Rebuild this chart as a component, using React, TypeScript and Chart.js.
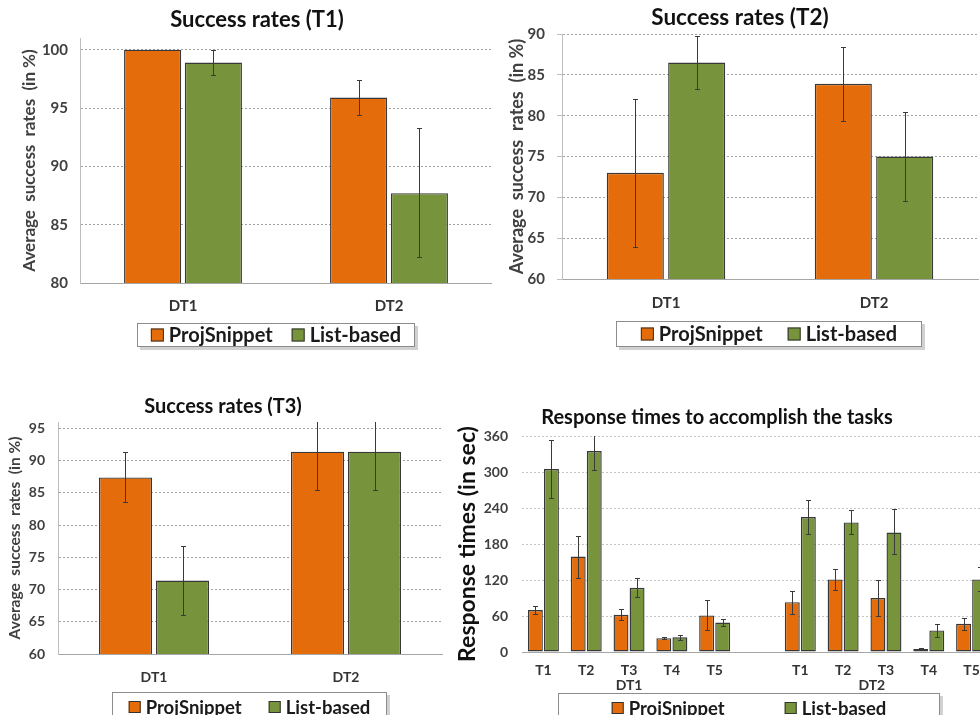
import React, { useEffect, useRef } from "react";
import { Chart, registerables } from "chart.js";

Chart.register(...registerables);

const FONT = "Lato, 'Open Sans', 'DejaVu Sans', sans-serif";
const ORANGE = "#E46C0A";
const GREEN = "#77933C";

// ---------- data ----------
const seriesNames = ["ProjSnippet", "List-based"];
const srCategories = ["DT1", "DT2"];

const t1ProjSnippet = [100, 95.9];
const t1ProjSnippetLow = [100, 94.4];
const t1ProjSnippetHigh = [100, 97.4];
const t1ListBased = [98.9, 87.7];
const t1ListBasedLow = [97.8, 82.2];
const t1ListBasedHigh = [100, 93.3];

const t2ProjSnippet = [73, 83.9];
const t2ProjSnippetLow = [63.9, 79.4];
const t2ProjSnippetHigh = [82, 88.4];
const t2ListBased = [86.5, 75];
const t2ListBasedLow = [83.3, 69.5];
const t2ListBasedHigh = [89.7, 80.5];

const t3ProjSnippet = [87.4, 91.4];
const t3ProjSnippetLow = [83.6, 85.4];
const t3ProjSnippetHigh = [91.3, 97.4];
const t3ListBased = [71.4, 91.4];
const t3ListBasedLow = [66.1, 85.4];
const t3ListBasedHigh = [76.8, 97.4];

const rtCategories = ["T1", "T2", "T3", "T4", "T5", "", "T1", "T2", "T3", "T4", "T5"];
const rtGroupLabels = ["DT1", "DT2"];
const rtGroupCenters = [2, 7.67];
const rtProjSnippet = [70, 159, 62, 23, 61, null, 83, 121, 90, 5, 47];
const rtProjSnippetLow = [63, 124, 53, 21.5, 36, null, 64, 103, 60, 4, 37];
const rtProjSnippetHigh = [77, 193, 72, 25, 87, null, 101, 138, 120, 6.5, 57];
const rtListBased = [305, 335, 107, 24.5, 49, null, 225, 216, 199, 36, 121];
const rtListBasedLow = [256, 303, 91, 20.5, 43, null, 196, 196, 163, 25, 101];
const rtListBasedHigh = [354, 367, 124, 29, 55, null, 254, 236, 238, 47, 142];

// [axis min, axis max, step, last labelled tick]
const t1Ticks = [80, 101, 5, 100];
const t2Ticks = [60, 90, 5, 90];
const t3Ticks = [60, 96, 5, 95];
const rtTicks = [0, 360, 60, 360];

// ---------- plugins ----------
const errorBarPlugin = {
  id: "errbars",
  afterDatasetsDraw(chart: any) {
    const ctx = chart.ctx;
    const a = chart.chartArea;
    const y = chart.scales.y;
    ctx.save();
    ctx.beginPath();
    ctx.rect(a.left, a.top, a.right - a.left, a.bottom - a.top);
    ctx.clip();
    ctx.strokeStyle = "#3a3a3a";
    ctx.lineWidth = 1;
    chart.data.datasets.forEach((ds: any, i: number) => {
      const meta = chart.getDatasetMeta(i);
      meta.data.forEach((bar: any, j: number) => {
        const lo = ds.errLow[j];
        const hi = ds.errHigh[j];
        if (lo == null || hi == null || lo === hi) return;
        const x = Math.round(bar.x) + 0.5;
        const yl = Math.round(y.getPixelForValue(lo)) + 0.5;
        const yh = Math.round(y.getPixelForValue(hi)) + 0.5;
        const cap = 2.5;
        ctx.beginPath();
        ctx.moveTo(x, yl);
        ctx.lineTo(x, yh);
        ctx.moveTo(x - cap, yl);
        ctx.lineTo(x + cap, yl);
        ctx.moveTo(x - cap, yh);
        ctx.lineTo(x + cap, yh);
        ctx.stroke();
      });
    });
    ctx.restore();
  },
};

function makeDecor(p: any) {
  return {
    id: "decor",
    afterDraw(chart: any) {
      const ctx = chart.ctx;
      ctx.save();
      // title
      ctx.font = `bold ${p.titleSize}px ${FONT}`;
      ctx.fillStyle = "#111";
      ctx.textAlign = "center";
      ctx.textBaseline = "middle";
      ctx.fillText(p.title, p.titleX, p.titleY);
      // group labels
      if (p.groups) {
        const xs = chart.scales.x;
        ctx.font = `bold ${p.xSize}px ${FONT}`;
        ctx.fillStyle = "#333";
        p.groups.labels.forEach((g: string, i: number) => {
          ctx.fillText(g, xs.getPixelForValue(p.groups.centers[i]), p.groups.y);
        });
      }
      // legend
      const L = p.legend;
      ctx.fillStyle = "rgba(0,0,0,0.18)";
      ctx.fillRect(L.x + 3, L.y + 3, L.w, L.h);
      ctx.fillStyle = "#fff";
      ctx.fillRect(L.x, L.y, L.w, L.h);
      ctx.strokeStyle = "#8c8c8c";
      ctx.lineWidth = 1;
      ctx.strokeRect(L.x + 0.5, L.y + 0.5, L.w - 1, L.h - 1);
      ctx.font = `bold ${L.size}px ${FONT}`;
      const items = chart.data.datasets.map((d: any) => ({ label: d.label, color: d.backgroundColor }));
      const sw = L.swatch;
      const tg = 5;
      const widths = items.map((it: any) => sw + tg + ctx.measureText(it.label).width);
      const total = widths.reduce((s: number, v: number) => s + v, 0) + L.gap * (items.length - 1);
      let x = L.x + (L.w - total) / 2;
      const cy = L.y + L.h / 2;
      ctx.textAlign = "left";
      ctx.textBaseline = "middle";
      items.forEach((it: any, i: number) => {
        ctx.fillStyle = it.color;
        ctx.fillRect(x, cy - sw / 2, sw, sw);
        ctx.strokeStyle = "#333";
        ctx.strokeRect(x + 0.5, cy - sw / 2 + 0.5, sw - 1, sw - 1);
        ctx.fillStyle = "#1a1a1a";
        ctx.fillText(it.label, x + sw + tg, cy + 1);
        x += widths[i] + L.gap;
      });
      ctx.restore();
    },
  };
}

function Panel(p: any) {
  const ref = useRef<HTMLCanvasElement>(null);
  useEffect(() => {
    const [min, max, step, tickMax] = p.ticks;
    const chart = new Chart(ref.current as HTMLCanvasElement, {
      type: "bar",
      data: {
        labels: p.labels,
        datasets: p.series.map((s: any) => ({
          label: s.name,
          data: s.values,
          errLow: s.low,
          errHigh: s.high,
          backgroundColor: s.color,
          borderColor: "#383838",
          borderWidth: 1.4,
          borderSkipped: false,
          categoryPercentage: p.catPct,
          barPercentage: p.barPct,
        })),
      } as any,
      options: {
        animation: false,
        responsive: false,
        devicePixelRatio: 1,
        layout: { padding: p.pad },
        plugins: { legend: { display: false }, title: { display: false }, tooltip: { enabled: false } },
        scales: {
          x: {
            grid: { display: false, drawTicks: false },
            border: { display: true, color: "#a6a6a6", width: 1 },
            ticks: {
              font: { family: FONT, size: p.xSize, weight: "bold" },
              color: "#333",
              padding: p.xPad,
              maxRotation: 0,
              autoSkip: false,
            },
            afterFit: (s: any) => {
              s.height = p.xH;
            },
          },
          y: {
            min,
            max,
            ticks: {
              stepSize: step,
              font: { family: FONT, size: p.tickSize, weight: "bold" },
              color: "#404040",
              padding: p.tickPad,
            },
            afterBuildTicks: (s: any) => {
              const t: any[] = [];
              for (let v = min; v <= tickMax + 1e-9; v += step) t.push({ value: v });
              s.ticks = t;
            },
            grid: {
              color: p.gridColor,
              lineWidth: 1,
              drawTicks: !!p.tickLen,
              tickLength: p.tickLen || 0,
              tickColor: "#bfbfbf",
              tickBorderDash: [],
            },
            border: { display: p.yBorder, color: "#bfbfbf", width: 1, dash: [2, 2] },
            title: {
              display: true,
              text: p.yTitle,
              font: { family: FONT, size: p.yTitleSize, weight: "bold" },
              color: p.yTitleColor,
              padding: { top: p.yTitlePad, bottom: 0 },
            },
            afterFit: (s: any) => {
              s.width = p.yW;
            },
          },
        },
      } as any,
      plugins: [errorBarPlugin, makeDecor(p)],
    });
    return () => chart.destroy();
  }, []);
  return (
    <canvas
      ref={ref}
      width={p.W}
      height={p.H}
      style={{ position: "absolute", left: p.left, top: p.top, width: p.W, height: p.H }}
    />
  );
}

const srYTitle = "Average  success  rates  (in %)";

export default function App() {
  const c1 = {
    left: 0, top: 0, W: 492, H: 360,
    pad: { left: 0, top: 38, right: 0, bottom: 37 }, yW: 80, xH: 40,
    labels: srCategories,
    series: [
      { name: seriesNames[0], values: t1ProjSnippet, low: t1ProjSnippetLow, high: t1ProjSnippetHigh, color: ORANGE },
      { name: seriesNames[1], values: t1ListBased, low: t1ListBasedLow, high: t1ListBasedHigh, color: GREEN },
    ],
    ticks: t1Ticks, catPct: 0.59, barPct: 0.94,
    xSize: 15, xPad: 14, tickSize: 15, tickPad: 12, tickLen: 0, gridColor: "#a0a0a0", yBorder: true,
    yTitle: srYTitle, yTitleSize: 17, yTitleColor: "#404040", yTitlePad: 19.5,
    title: "Success rates (T1)", titleX: 257, titleY: 20, titleSize: 22,
    legend: { x: 137, y: 323, w: 278, h: 24, size: 20, swatch: 13, gap: 19 },
  };
  const c2 = {
    left: 490, top: 0, W: 490, H: 360,
    pad: { left: 0, top: 34, right: 2, bottom: 41 }, yW: 72, xH: 40,
    labels: srCategories,
    series: [
      { name: seriesNames[0], values: t2ProjSnippet, low: t2ProjSnippetLow, high: t2ProjSnippetHigh, color: ORANGE },
      { name: seriesNames[1], values: t2ListBased, low: t2ListBasedLow, high: t2ListBasedHigh, color: GREEN },
    ],
    ticks: t2Ticks, catPct: 0.59, barPct: 0.93,
    xSize: 15, xPad: 15, tickSize: 15, tickPad: 12, tickLen: 5, gridColor: "#a0a0a0", yBorder: true,
    yTitle: srYTitle, yTitleSize: 18, yTitleColor: "#404040", yTitlePad: 16,
    title: "Success rates (T2)", titleX: 250, titleY: 18, titleSize: 22.5,
    legend: { x: 126, y: 321, w: 306, h: 26, size: 20, swatch: 13, gap: 25 },
  };
  const c3 = {
    left: 0, top: 380, W: 450, H: 335,
    pad: { left: 0, top: 42, right: 8, bottom: 21 }, yW: 58, xH: 40,
    labels: srCategories,
    series: [
      { name: seriesNames[0], values: t3ProjSnippet, low: t3ProjSnippetLow, high: t3ProjSnippetHigh, color: ORANGE },
      { name: seriesNames[1], values: t3ListBased, low: t3ListBasedLow, high: t3ListBasedHigh, color: GREEN },
    ],
    ticks: t3Ticks, catPct: 0.594, barPct: 0.93,
    xSize: 14, xPad: 15, tickSize: 14, tickPad: 13, tickLen: 0, gridColor: "#a0a0a0", yBorder: true,
    yTitle: srYTitle, yTitleSize: 15.5, yTitleColor: "#404040", yTitlePad: 5.5,
    title: "Success rates (T3)", titleX: 223, titleY: 27, titleSize: 20,
    legend: { x: 112, y: 312, w: 275, h: 30, size: 18.5, swatch: 12, gap: 27 },
  };
  const c4 = {
    left: 450, top: 390, W: 545, H: 325,
    pad: { left: 0, top: 46, right: 2, bottom: 23 }, yW: 72, xH: 40,
    labels: rtCategories,
    series: [
      { name: seriesNames[0], values: rtProjSnippet, low: rtProjSnippetLow, high: rtProjSnippetHigh, color: ORANGE },
      { name: seriesNames[1], values: rtListBased, low: rtListBasedLow, high: rtListBasedHigh, color: GREEN },
    ],
    ticks: rtTicks, catPct: 0.75, barPct: 0.93,
    xSize: 14, xPad: 10, tickSize: 14, tickPad: 14, tickLen: 0, gridColor: "#c4c4c4", yBorder: false,
    yTitle: "Response times (in sec)", yTitleSize: 23, yTitleColor: "#111", yTitlePad: 4.2,
    title: "Response times to accomplish the tasks", titleX: 267, titleY: 28, titleSize: 20,
    groups: { labels: rtGroupLabels, centers: rtGroupCenters, y: 295 },
    legend: { x: 108, y: 303, w: 382, h: 30, size: 18.5, swatch: 12, gap: 60 },
  };
  return (
    <div style={{ position: "fixed", left: 0, top: 0, width: 980, height: 715, overflow: "hidden", background: "#fff" }}>
      <Panel {...c1} />
      <Panel {...c2} />
      <Panel {...c3} />
      <Panel {...c4} />
    </div>
  );
}
